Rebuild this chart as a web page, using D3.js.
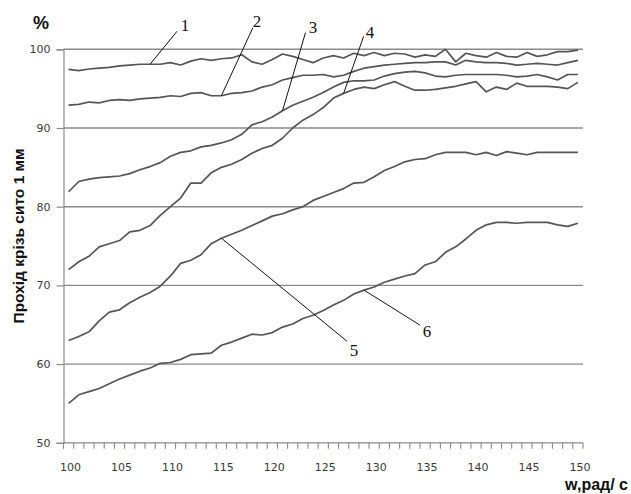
<!DOCTYPE html>
<html><head><meta charset="utf-8">
<script src="https://cdn.jsdelivr.net/npm/d3@7"></script>
<style>body{margin:0;background:#fff}svg{display:block}</style>
</head><body>
<svg id="c" width="631" height="494"></svg>
<script>
const categories = d3.range(100, 151);
const xTickLabels = [100,105,110,115,120,125,130,135,140,145,150];
const yTickValues = [50,60,70,80,90,100];
const seriesNames = ["1","2","3","4","5","6"];

const s1 = [97.45,97.3,97.5,97.6,97.7,97.9,98.0,98.1,98.1,98.1,98.3,98.0,98.5,98.8,98.6,98.8,98.9,99.3,98.4,98.1,98.7,99.4,99.1,98.7,98.3,98.9,99.2,98.9,99.5,99.2,99.6,99.2,99.5,99.4,99.0,99.3,99.1,100.0,98.4,99.5,99.2,99.0,99.6,99.1,99.0,99.6,99.1,99.3,99.7,99.7,99.9];
const s2 = [92.9,93.0,93.3,93.2,93.5,93.6,93.5,93.7,93.8,93.9,94.1,94.0,94.4,94.5,94.1,94.1,94.4,94.5,94.7,95.2,95.5,96.1,96.4,96.7,96.7,96.8,96.5,96.7,97.2,97.6,97.8,98.0,98.1,98.2,98.3,98.3,98.4,98.4,98.0,98.6,98.4,98.3,98.3,98.2,98.0,98.1,98.2,98.1,98.0,98.3,98.6];
const s3 = [81.9,83.2,83.5,83.7,83.8,83.9,84.2,84.7,85.1,85.6,86.4,86.9,87.1,87.6,87.8,88.1,88.5,89.2,90.4,90.8,91.4,92.2,92.9,93.4,93.9,94.5,95.2,95.8,96.0,96.0,96.1,96.6,96.9,97.1,97.2,97.0,96.6,96.5,96.7,96.8,96.8,96.8,96.8,96.7,96.5,96.6,96.8,96.5,96.1,96.8,96.8];
const s4 = [72.0,73.0,73.7,74.9,75.3,75.7,76.8,77.0,77.6,78.9,80.0,81.1,83.0,83.0,84.3,85.0,85.4,86.0,86.8,87.4,87.8,88.7,90.0,91.0,91.7,92.6,93.8,94.4,94.9,95.2,95.0,95.5,95.9,95.3,94.8,94.8,94.9,95.1,95.3,95.6,95.9,94.6,95.2,94.9,95.7,95.3,95.3,95.3,95.2,95.0,95.8];
const s5 = [63.0,63.5,64.1,65.5,66.6,66.9,67.8,68.5,69.1,69.9,71.2,72.8,73.2,73.9,75.3,76.0,76.5,77.0,77.6,78.2,78.8,79.1,79.6,80.0,80.8,81.3,81.8,82.3,83.0,83.1,83.8,84.6,85.1,85.7,86.0,86.1,86.6,86.9,86.9,86.9,86.6,86.9,86.5,87.0,86.8,86.6,86.9,86.9,86.9,86.9,86.9];
const s6 = [55.0,56.1,56.5,56.9,57.5,58.1,58.6,59.1,59.5,60.1,60.2,60.6,61.2,61.3,61.4,62.4,62.8,63.3,63.8,63.7,64.0,64.7,65.1,65.8,66.2,66.8,67.5,68.1,68.9,69.4,69.8,70.4,70.8,71.2,71.5,72.6,73.0,74.2,74.9,75.9,77.0,77.7,78.0,78.0,77.9,78.0,78.0,78.0,77.7,77.5,77.9];
const seriesValues = [s1,s2,s3,s4,s5,s6];

// category where each leader line touches its curve
const leaderCategory = [108,115,121,127,115,129];

// layout (pixels)
const leaderOffsets = [[27,-33],[31.5,-68],[23,-78],[20,-57],[125.5,103],[56,35]];
const labelPos = [[185,31],[257,27],[313,33],[370,38],[354,356],[427,337]];

const svg = d3.select("#c");
const x = d3.scaleBand().domain(categories).range([63.5,583]).paddingInner(0).paddingOuter(0);
const y = d3.scaleLinear().domain([50,100]).range([442.8,49.3]);
const cx = c => x(c) + x.bandwidth()/2;
const gridColor = "#8a8a8a";

// gridlines
svg.append("g").selectAll("line").data(yTickValues.filter(v=>v>50)).join("line")
  .attr("x1",63.5).attr("x2",583).attr("y1",d=>y(d)).attr("y2",d=>y(d))
  .attr("stroke",gridColor).attr("stroke-width",1.4);

// y axis
const yAxis = svg.append("g").attr("transform","translate(63.5,0)")
  .call(d3.axisLeft(y).tickValues(yTickValues).tickSize(7).tickPadding(6));
yAxis.select(".domain").attr("stroke",gridColor).attr("stroke-width",1.2);
yAxis.selectAll(".tick line").attr("stroke",gridColor).attr("stroke-width",1.2);
yAxis.selectAll("text").attr("font-family","DejaVu Sans").attr("font-size",11).attr("fill","#3a3a3a");

// x axis
const xAxis = svg.append("g").attr("transform","translate(0,442.8)");
xAxis.append("line").attr("x1",63.5).attr("x2",583).attr("stroke",gridColor).attr("stroke-width",1.2);
const boundaries = categories.map(c=>x(c)).concat([x(categories[categories.length-1])+x.bandwidth()]);
xAxis.selectAll("line.t").data(boundaries).join("line").attr("class","t")
  .attr("x1",d=>d).attr("x2",d=>d).attr("y1",0).attr("y2",6)
  .attr("stroke",gridColor).attr("stroke-width",1.1);
xAxis.selectAll("text").data(xTickLabels).join("text")
  .attr("x",d=>cx(d)+2).attr("y",28).attr("text-anchor","middle")
  .attr("font-family","DejaVu Sans").attr("font-size",11).attr("fill","#3a3a3a").text(d=>d);

// curves
const line = d3.line().x((d,i)=>cx(categories[i])).y(d=>y(d));
svg.append("g").selectAll("path").data(seriesValues).join("path")
  .attr("d",line).attr("fill","none").attr("stroke","#555").attr("stroke-width",1.7)
  .attr("stroke-linejoin","round");

// leaders and labels
seriesNames.forEach((name,k)=>{
  const c = leaderCategory[k];
  const v = seriesValues[k][categories.indexOf(c)];
  const px = cx(c), py = y(v);
  svg.append("line").attr("x1",px).attr("y1",py)
    .attr("x2",px+leaderOffsets[k][0]).attr("y2",py+leaderOffsets[k][1])
    .attr("stroke","#111").attr("stroke-width",1);
  svg.append("text").attr("x",labelPos[k][0]).attr("y",labelPos[k][1])
    .attr("text-anchor","middle").attr("font-family","Liberation Serif")
    .attr("font-size",17).attr("fill","#111").text(name);
});

// titles
svg.append("text").attr("x",33).attr("y",29).attr("font-family","Liberation Sans")
  .attr("font-weight","bold").attr("font-size",18).attr("fill","#111").text("%");
svg.append("text").attr("transform","translate(24,236) rotate(-90)").attr("text-anchor","middle")
  .attr("font-family","Liberation Sans").attr("font-weight","bold").attr("font-size",15.5)
  .attr("fill","#111").text("Прохід крізь сито 1 мм");
svg.append("text").attr("x",628).attr("y",490).attr("text-anchor","end")
  .attr("font-family","Liberation Sans").attr("font-weight","bold").attr("font-size",16)
  .attr("fill","#111").text("w,рад/ с");
</script>
</body></html>
